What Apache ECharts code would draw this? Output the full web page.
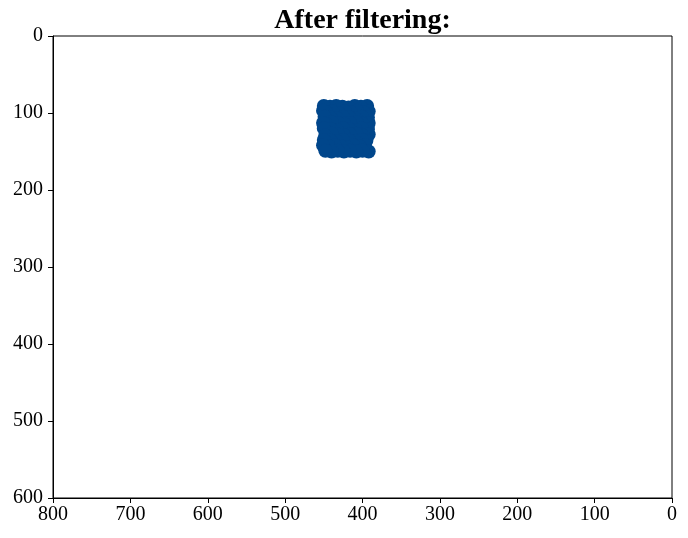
<!DOCTYPE html>
<html>
<head>
<meta charset="utf-8">
<script src="https://cdn.jsdelivr.net/npm/echarts@6/dist/echarts.min.js"></script>
<style>html,body{margin:0;padding:0;background:#fff}#c{width:688px;height:538px}</style>
</head>
<body>
<div id="c"></div>
<script>
var titleText = 'After filtering:';
var xTicks = [0, 100, 200, 300, 400, 500, 600, 700, 800];
var yTicks = [0, 100, 200, 300, 400, 500, 600];
var pointX = [
  394, 402, 410, 418, 426, 434, 442, 450,
  392, 399, 407, 415, 423, 431, 439, 447, 451,
  393, 401, 409, 417, 425, 433, 441, 449,
  392, 400, 408, 416, 424, 432, 440, 448, 451,
  393, 401, 409, 417, 425, 433, 441, 450,
  392, 400, 408, 416, 424, 432, 440, 448,
  395, 401, 409, 417, 425, 433, 441, 450,
  397, 404, 412, 420, 428, 436, 444, 451,
  392, 400, 408, 416, 424, 432, 440, 448
];
var pointY = [
  91, 92, 91, 93, 92, 91, 92, 91,
  98, 99, 97, 99, 98, 100, 98, 99, 97,
  106, 105, 107, 106, 105, 107, 106, 105,
  113, 114, 112, 113, 114, 113, 112, 114, 113,
  121, 120, 122, 121, 120, 122, 121, 120,
  128, 129, 127, 128, 129, 128, 127, 129,
  136, 135, 137, 136, 135, 137, 136, 135,
  142, 143, 142, 144, 143, 142, 143, 142,
  150, 149, 150, 149, 150, 149, 150, 149
];
var data = pointX.map(function (x, i) { return [x, pointY[i]]; });
var chart = echarts.init(document.getElementById('c'), null, {renderer: 'canvas'});
var font = 'Liberation Serif';
chart.setOption({
  animation: false,
  backgroundColor: '#fff',
  graphic: [{
    type: 'text',
    x: 362.5,
    y: 7,
    style: {text: titleText, fontFamily: font, fontSize: 28, fontWeight: 'bold', fill: '#000', align: 'center', verticalAlign: 'top'}
  }],
  grid: {left: 53, right: 16, top: 36, bottom: 40, show: true, borderColor: '#000', borderWidth: 1, backgroundColor: 'transparent'},
  xAxis: {
    type: 'value', min: xTicks[0], max: xTicks[xTicks.length - 1], interval: 100, inverse: true,
    axisLine: {show: true, onZero: false, lineStyle: {color: '#000', width: 1}},
    axisTick: {show: true, length: 5, lineStyle: {color: '#000'}},
    axisLabel: {fontFamily: font, fontSize: 20, color: '#000', margin: 7},
    splitLine: {show: false}
  },
  yAxis: {
    type: 'value', min: yTicks[0], max: yTicks[yTicks.length - 1], interval: 100, inverse: true,
    axisLine: {show: true, onZero: false, lineStyle: {color: '#000', width: 1}},
    axisTick: {show: true, length: 5, lineStyle: {color: '#000'}},
    axisLabel: {fontFamily: font, fontSize: 20, color: '#000', margin: 10},
    splitLine: {show: false}
  },
  series: [{
    type: 'scatter',
    data: data,
    symbolSize: 14,
    itemStyle: {color: '#00468B', opacity: 1}
  }]
});
</script>
</body>
</html>
